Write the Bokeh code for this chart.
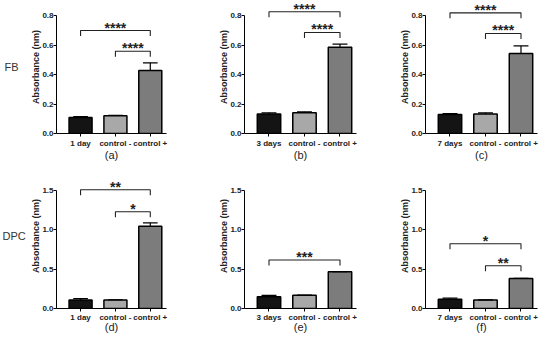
from bokeh.plotting import figure
from bokeh.models import FixedTicker, PrintfTickFormatter
from bokeh.layouts import row, column
from bokeh.embed import file_html
from bokeh.resources import INLINE
from bokeh.core.properties import value

# ---------------- data ----------------
cats_a = ["1 day", "control -", "control +"]
cats_b = ["3 days", "control -", "control +"]
cats_c = ["7 days", "control -", "control +"]

# FB
mean_a = [0.108, 0.120, 0.427]
sd_a = [0.007, 0.003, 0.052]
mean_b = [0.133, 0.140, 0.585]
sd_b = [0.007, 0.007, 0.021]
mean_c = [0.129, 0.133, 0.542]
sd_c = [0.006, 0.007, 0.052]
# DPC
mean_d = [0.107, 0.107, 1.046]
sd_d = [0.019, 0.004, 0.043]
mean_e = [0.150, 0.167, 0.467]
sd_e = [0.018, 0.003, 0.003]
mean_f = [0.116, 0.107, 0.381]
sd_f = [0.015, 0.003, 0.003]

# significance brackets: (from bar, to bar, level, label)
br_a = [(0, 2, 0.698, "****"), (1, 2, 0.558, "****")]
br_b = [(0, 2, 0.825, "****"), (1, 2, 0.685, "****")]
br_c = [(0, 2, 0.818, "****"), (1, 2, 0.678, "****")]
br_d = [(0, 2, 1.509, "**"), (1, 2, 1.230, "*")]
br_e = [(0, 2, 0.617, "***")]
br_f = [(0, 2, 0.823, "*"), (1, 2, 0.544, "**")]

yticks_fb = [0.0, 0.2, 0.4, 0.6, 0.8]
yticks_dpc = [0.0, 0.5, 1.0, 1.5]
panel_letters = ["(a)", "(b)", "(c)", "(d)", "(e)", "(f)"]
row_labels = ["FB", "DPC"]

# ---------------- style ----------------
FONT = "Liberation Sans"
BAR_COLORS = ["#141414", "#a8a8a8", "#7c7c7c"]
XS = [1, 2, 3]
X_RANGE = (0.31, 3.465)


def side_label(text, width, height, x_px, y_px):
    p = figure(width=width, height=height, x_range=(0, width), y_range=(height, 0),
               output_backend="svg", toolbar_location=None,
               min_border_left=0, min_border_right=0,
               min_border_top=0, min_border_bottom=0)
    p.axis.visible = False
    p.grid.visible = False
    p.outline_line_color = None
    p.text(x=[x_px], y=[y_px], text=[text], text_align="left", text_baseline="middle",
           text_font=value(FONT), text_font_size="11px", text_color="#333333")
    return p


def make_panel(cats, means, sds, brackets, yticks, width, left, right,
               height, frame_h, px_per_unit, letter, lab_standoff, sub_standoff):
    bottom = height - frame_h
    y_end = frame_h / px_per_unit
    p = figure(width=width, height=height, x_range=X_RANGE, y_range=(0, y_end),
               output_backend="svg", toolbar_location=None,
               min_border_left=left, min_border_right=right,
               min_border_top=0, min_border_bottom=bottom)
    p.outline_line_color = None
    p.xgrid.visible = False
    p.ygrid.visible = False
    p.background_fill_color = "white"
    p.border_fill_color = "white"

    p.vbar(x=XS, top=means, bottom=0, width=0.66, fill_color=BAR_COLORS,
           line_color="black", line_width=1.5)
    tops = [m + s for m, s in zip(means, sds)]
    p.segment(x0=XS, y0=means, x1=XS, y1=tops, line_color="black", line_width=1.2)
    p.segment(x0=[x - 0.21 for x in XS], y0=tops, x1=[x + 0.21 for x in XS], y1=tops,
              line_color="black", line_width=1.2)

    drop = 5.5 / px_per_unit
    for i, j, lev, lab in brackets:
        xi, xj = XS[i], XS[j]
        p.line(x=[xi, xi, xj, xj], y=[lev - drop, lev, lev, lev - drop],
               line_color="#222222", line_width=1.1)
        p.text(x=[(xi + xj) / 2], y=[lev], text=[lab], text_align="center",
               text_baseline="alphabetic", y_offset=-3,
               text_font=value(FONT), text_font_style="bold",
               text_font_size="14px", text_color="#222222")

    xa = p.xaxis[0]
    xa.ticker = FixedTicker(ticks=XS)
    xa.major_label_overrides = {XS[k]: cats[k] for k in range(3)}
    xa.major_label_text_font = FONT
    xa.major_label_text_font_style = "bold"
    xa.major_label_text_font_size = "8px"
    xa.major_label_text_color = "#222222"
    xa.major_tick_out = 3
    xa.major_tick_in = 0
    xa.minor_tick_out = 0
    xa.minor_tick_in = 0
    xa.major_label_standoff = lab_standoff
    xa.axis_line_color = "black"
    xa.major_tick_line_color = "black"
    xa.axis_label = letter
    xa.axis_label_text_font = FONT
    xa.axis_label_text_font_style = "normal"
    xa.axis_label_text_font_size = "11px"
    xa.axis_label_text_color = "#222222"
    xa.axis_label_standoff = sub_standoff

    ya = p.yaxis[0]
    ya.ticker = FixedTicker(ticks=yticks)
    ya.formatter = PrintfTickFormatter(format="%.1f")
    ya.bounds = (yticks[0], yticks[-1])
    ya.axis_label = "Absorbance (nm)"
    ya.axis_label_text_font = FONT
    ya.axis_label_text_font_style = "bold"
    ya.axis_label_text_font_size = "9px"
    ya.axis_label_text_color = "#222222"
    ya.axis_label_standoff = -2
    ya.major_label_text_font = FONT
    ya.major_label_text_font_style = "bold"
    ya.major_label_text_font_size = "8px"
    ya.major_label_text_color = "#222222"
    ya.major_tick_out = 3
    ya.major_tick_in = 0
    ya.minor_tick_out = 0
    ya.minor_tick_in = 0
    ya.major_label_standoff = 0
    ya.axis_line_color = "black"
    ya.major_tick_line_color = "black"
    return p


FB_PX = 147.5   # pixels per unit on the FB row
DPC_PX = 118 / 1.5
H1, H2 = 163, 172
SIDE_W = 28

sfb = side_label(row_labels[0], SIDE_W, H1, 4, 82)
sdpc = side_label(row_labels[1], SIDE_W, H2, 2, 86)

pa = make_panel(cats_a, mean_a, sd_a, br_a, yticks_fb, 160, 26, 22, H1, 133, FB_PX,
                panel_letters[0], 2, -2)
pb = make_panel(cats_b, mean_b, sd_b, br_b, yticks_fb, 181, 56, 13, H1, 133, FB_PX,
                panel_letters[1], 2, -2)
pc = make_panel(cats_c, mean_c, sd_c, br_c, yticks_fb, 173, 56, 5, H1, 133, FB_PX,
                panel_letters[2], 2, -2)
pd = make_panel(cats_a, mean_d, sd_d, br_d, yticks_dpc, 160, 26, 22, H2, 145, DPC_PX,
                panel_letters[3], 1, -4)
pe = make_panel(cats_b, mean_e, sd_e, br_e, yticks_dpc, 181, 56, 13, H2, 145, DPC_PX,
                panel_letters[4], 1, -4)
pf = make_panel(cats_c, mean_f, sd_f, br_f, yticks_dpc, 173, 56, 5, H2, 145, DPC_PX,
                panel_letters[5], 1, -4)

layout = column(row(sfb, pa, pb, pc), row(sdpc, pd, pe, pf))

open("out.html", "w").write(file_html(layout, INLINE))
